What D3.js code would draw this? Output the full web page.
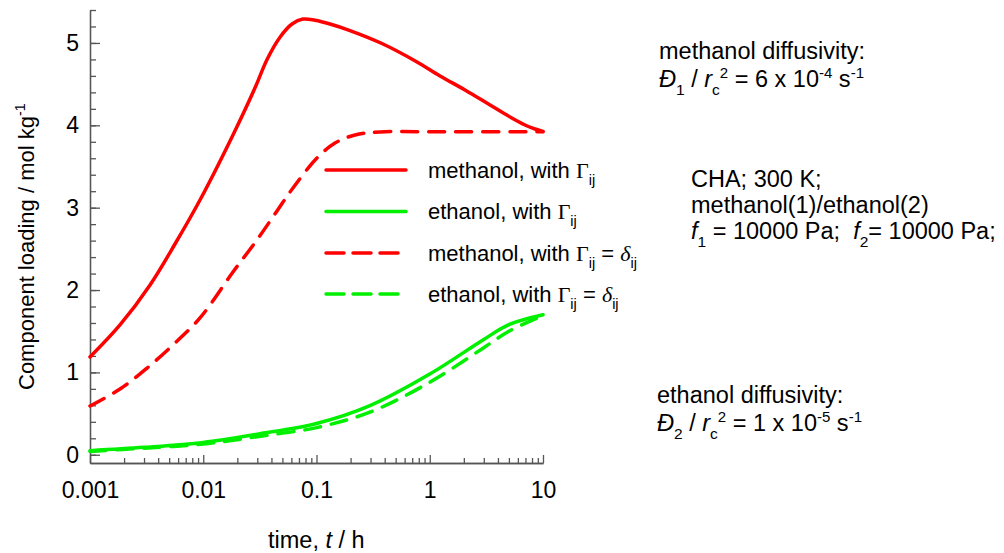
<!DOCTYPE html>
<html>
<head>
<meta charset="utf-8">
<script src="https://cdn.jsdelivr.net/npm/d3@7"></script>
<style>
  body { margin: 0; background: #fff; }
  text { font-family: Arial, "Liberation Sans", sans-serif; fill: #000; white-space: pre; }
  .axes path, .axes line { stroke: #555; stroke-width: 1.3; }
  .axes text { font-size: 23px; fill: #000; }
</style>
</head>
<body>
<div id="canvas"></div>
<script>
// DATA
const tMethGamma = [0.001, 0.00184, 0.00339, 0.00563, 0.00936, 0.0183, 0.0286, 0.0366, 0.0476, 0.0608, 0.076, 0.097, 0.1316, 0.1976, 0.3866, 0.7717, 1.232, 2.048, 3.404, 5.112, 6.934, 8.5, 10];
const vMethGamma = [1.187, 1.576, 2.061, 2.559, 3.093, 3.883, 4.453, 4.8, 5.07, 5.23, 5.29, 5.275, 5.23, 5.15, 4.987, 4.769, 4.599, 4.429, 4.247, 4.101, 4.004, 3.955, 3.925];

const tMethDelta = [0.001, 0.00184, 0.00319, 0.0054, 0.00936, 0.0183, 0.0298, 0.0448, 0.062, 0.101, 0.1457, 0.219, 0.364, 1, 10];
const vMethDelta = [0.592, 0.798, 1.053, 1.333, 1.661, 2.219, 2.608, 2.96, 3.239, 3.603, 3.785, 3.883, 3.919, 3.922, 3.922];

const tEthGamma = [0.001, 0.003, 0.01, 0.03, 0.1, 0.3, 1, 3, 5, 10];
const vEthGamma = [0.05, 0.09, 0.15, 0.25, 0.38, 0.6, 0.98, 1.4, 1.58, 1.7];

const tEthDelta = [0.001, 0.003, 0.01, 0.03, 0.1, 0.3, 1, 3, 5, 10];
const vEthDelta = [0.04, 0.08, 0.13, 0.22, 0.33, 0.52, 0.88, 1.3, 1.5, 1.69];

const xMajorTicks = [0.001, 0.01, 0.1, 1, 10];
const xTickLabels = ["0.001", "0.01", "0.1", "1", "10"];
const yMajorTicks = [0, 1, 2, 3, 4, 5];

const legendNames = ["methanol, with ", "ethanol, with ", "methanol, with ", "ethanol, with "];

// DIMENSIONS
const width = 1004;
const height = 553;

const svg = d3.select('#canvas')
  .append('svg')
  .attr('width', width)
  .attr('height', height);

// SCALES
const x = d3.scaleLog().domain([0.001, 10]).range([90, 543]);
const y = d3.scaleLinear().domain([-0.1, 5.4]).range([463, 10]);

// AXES
let xMinor = [];
[0.001, 0.01, 0.1, 1].forEach(d => { for (let k = 2; k <= 9; k++) xMinor.push(d * k); });
let yMinor = d3.range(0, 5.41, 0.2).map(d => +d.toFixed(1));

svg.append('g').attr('class', 'axes')
  .attr('transform', 'translate(0,463)')
  .call(d3.axisBottom(x).tickValues(xMinor).tickSize(-5).tickSizeOuter(0).tickFormat(''));

svg.append('g').attr('class', 'axes')
  .attr('transform', 'translate(0,463)')
  .call(d3.axisBottom(x).tickValues(xMajorTicks).tickSize(-8).tickSizeOuter(0).tickPadding(19)
    .tickFormat((d, i) => xTickLabels[i]));

svg.append('g').attr('class', 'axes')
  .attr('transform', 'translate(90,0)')
  .call(d3.axisLeft(y).tickValues(yMinor).tickSize(-6).tickSizeOuter(0).tickFormat(''));

svg.append('g').attr('class', 'axes')
  .attr('transform', 'translate(90,0)')
  .call(d3.axisLeft(y).tickValues(yMajorTicks).tickSize(-10).tickSizeOuter(0).tickPadding(11)
    .tickFormat(d3.format('d')));

// LINES
const red = '#ff0000', green = '#00f000';
const line = d3.line().x(d => x(d[0])).y(d => y(d[1])).curve(d3.curveCatmullRom.alpha(0.5));
const series = [
  { t: tMethGamma, v: vMethGamma, color: red, dash: null },
  { t: tEthGamma, v: vEthGamma, color: green, dash: null },
  { t: tMethDelta, v: vMethDelta, color: red, dash: '16,11' },
  { t: tEthDelta, v: vEthDelta, color: green, dash: '16,11' }
];

svg.selectAll('path.curve').data(series).enter()
  .append('path')
  .attr('class', 'curve')
  .attr('d', s => line(d3.zip(s.t, s.v)))
  .attr('fill', 'none')
  .attr('stroke', s => s.color)
  .attr('stroke-width', 3.5)
  .attr('stroke-linecap', 'round')
  .attr('stroke-dasharray', s => s.dash);

// rich text helper: parts = [text, kind]
function rich(g, px, py, parts, size) {
  const t = g.append('text').attr('x', px).attr('y', py).style('font-size', size + 'px');
  let shift = 0;
  parts.forEach(([txt, kind]) => {
    let target = 0, fs = size, style = 'normal', fam = null;
    if (kind === 'sub') { target = 0.32 * size; fs = 0.66 * size; }
    if (kind === 'sup') { target = -0.4 * size; fs = 0.64 * size; }
    if (kind === 'i') style = 'italic';
    if (kind === 'serif') fam = '"Liberation Serif", "Times New Roman", serif';
    if (kind === 'iserif') { fam = '"Liberation Serif", "Times New Roman", serif'; style = 'italic'; }
    const ts = t.append('tspan').attr('dy', target - shift)
      .style('font-size', fs + 'px').style('font-style', style).text(txt);
    if (fam) ts.style('font-family', fam);
    shift = target;
  });
  return t;
}

// LEGEND
const legendY = [170, 211.5, 253, 294];
series.forEach((s, i) => {
  svg.append('line')
    .attr('x1', 326).attr('x2', 406)
    .attr('y1', legendY[i]).attr('y2', legendY[i])
    .attr('stroke', s.color).attr('stroke-width', 3.5)
    .attr('stroke-linecap', 'round')
    .attr('stroke-dasharray', s.dash ? '18,9' : null);
  let parts = [[legendNames[i], 'n'], ['\u0393', 'serif'], ['ij', 'sub']];
  if (i >= 2) parts = parts.concat([[' = ', 'n'], ['\u03b4', 'iserif'], ['ij', 'sub']]);
  rich(svg, 428, legendY[i] + 7.5, parts, 22);
});

// AXIS TITLES
const yTitle = svg.append('g').attr('transform', 'translate(34,390) rotate(-90)');
rich(yTitle, 0, 0, [['Component loading / mol kg', 'n'], ['-1', 'sup']], 22);

rich(svg, 268, 548, [['time, ', 'n'], ['t', 'i'], [' / h', 'n']], 23.5);

// ANNOTATIONS
const fs = 23.5;
rich(svg, 659, 59, [['methanol diffusivity:', 'n']], fs);
rich(svg, 659, 87, [['\u0110', 'i'], ['1', 'sub'], [' / ', 'n'], ['r', 'i'], ['c', 'sub'], ['2', 'sup'],
  [' = 6 x 10', 'n'], ['-4', 'sup'], [' s', 'n'], ['-1', 'sup']], fs);

rich(svg, 691, 187, [['CHA; 300 K;', 'n']], fs);
rich(svg, 691, 213, [['methanol(1)/ethanol(2)', 'n']], fs);
rich(svg, 691, 239, [['f', 'i'], ['1', 'sub'], [' = 10000 Pa;  ', 'n'], ['f', 'i'], ['2', 'sub'], ['= 10000 Pa;', 'n']], fs);

rich(svg, 657, 403, [['ethanol diffusivity:', 'n']], fs);
rich(svg, 657, 431, [['\u0110', 'i'], ['2', 'sub'], [' / ', 'n'], ['r', 'i'], ['c', 'sub'], ['2', 'sup'],
  [' = 1 x 10', 'n'], ['-5', 'sup'], [' s', 'n'], ['-1', 'sup']], fs);
</script>
</body>
</html>
